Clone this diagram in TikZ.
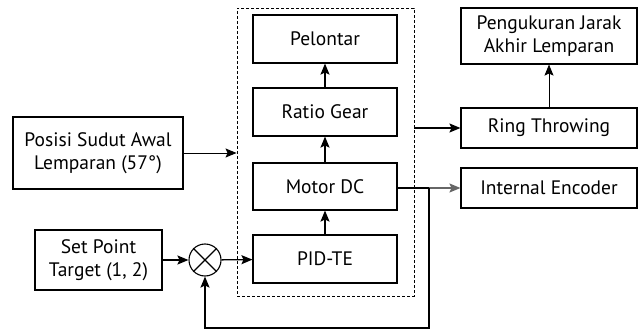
\documentclass[tikz,border=0pt]{standalone}
\usepackage{fontspec}
\setmainfont{PT Sans}
\usetikzlibrary{arrows.meta}
\begin{document}
\begin{tikzpicture}[x=1pt,y=-1pt,
  blk/.style={draw,line width=1.1pt,align=center,inner sep=0pt,font=\fontsize{19.5}{23}\selectfont},
  arr/.style={line width=1.3pt,-{Stealth[length=11pt,width=9pt,inset=2pt]}},
  ln/.style={line width=1.3pt}]
\useasboundingbox (0,0) rectangle (644,331);
\fill[white] (0,0) rectangle (644,331);
% dashed box
\node[draw,dash pattern=on 3pt off 2pt,line width=0.9pt,minimum width=177pt,minimum height=288pt,inner sep=0pt] (grp) at (325.5,152) {};
\node[blk,minimum width=144pt,minimum height=48pt] (pel) at (325,39) {Pelontar};
\node[blk,minimum width=144pt,minimum height=48pt] (rg) at (325,112) {Ratio Gear};
\node[blk,minimum width=144pt,minimum height=47pt] (mdc) at (325,186.5) {Motor DC};
\node[blk,minimum width=144pt,minimum height=48pt] (pid) at (325,259) {PID-TE};
\node[blk,minimum width=170pt,minimum height=72pt] (pos) at (98,153) {Posisi Sudut Awal\\Lemparan (57°)};
\node[blk,minimum width=127pt,minimum height=60pt] (sp) at (98.5,260) {Set Point\\Target (1, 2)};
\node[draw,circle,line width=1.1pt,minimum size=32pt,inner sep=0pt] (sum) at (205,260) {};
\draw[line width=1.1pt] (sum.north west) -- (sum.south east) (sum.north east) -- (sum.south west);
\node[blk,minimum width=176pt,minimum height=56pt] (pen) at (549,36) {Pengukuran Jarak\\Akhir Lemparan};
\node[blk,minimum width=176pt,minimum height=40pt] (ring) at (549,128) {Ring Throwing};
\node[blk,minimum width=176pt,minimum height=40pt] (enc) at (549,188) {Internal Encoder};
\coordinate (fb) at (429,188);
% connectors
\draw[arr] (pid) -- (mdc);
\draw[arr] (mdc) -- (rg);
\draw[arr] (rg) -- (pel);
\draw[arr,line width=0.9pt] (pos.east |- 0,153) -- (grp.west |- 0,153);
\draw[arr] (sp) -- (sum);
\draw[arr] (sum) -- (pid);
\draw[arr] (grp.east |- ring) -- (ring);
\draw[arr,line width=0.9pt] (ring) -- (pen);
\draw[ln] (mdc.east |- fb) -- (fb);
\draw[arr,draw=gray!80!black,fill=black] (fb) -- (enc);
\draw[arr] (fb) -- (429,328) -- (205,328) -- (sum);
\end{tikzpicture}
\end{document}
